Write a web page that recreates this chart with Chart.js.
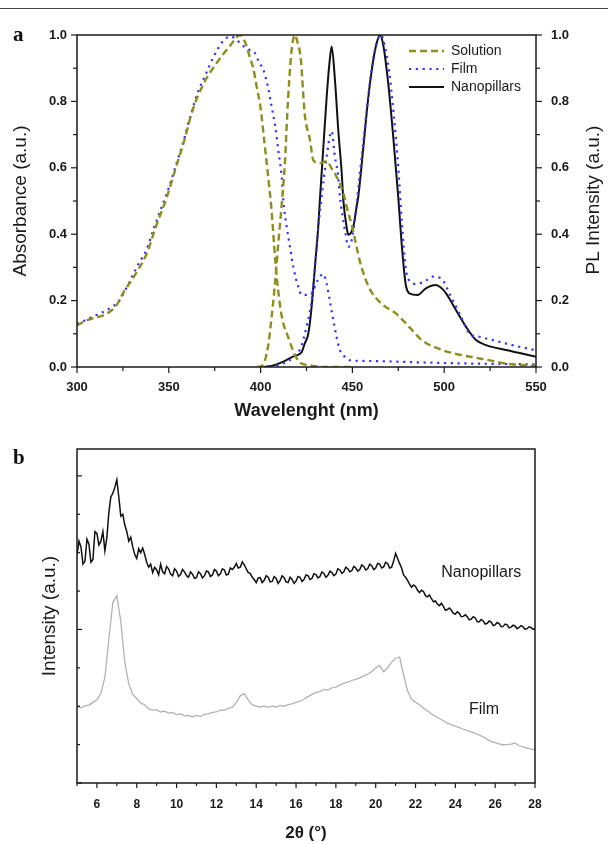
<!DOCTYPE html>
<html>
<head>
<meta charset="utf-8">
<script src="https://cdn.jsdelivr.net/npm/chart.js@4.4.0/dist/chart.umd.min.js"></script>
<style>
body { margin: 0; background: #fff; }
#page { position: relative; width: 612px; height: 844px; overflow: hidden; }
#rule { position: absolute; left: 0; top: 8px; width: 608px; height: 1px; background: #444; }
.panel { position: absolute; left: 13px; font: bold 21px "Liberation Serif", serif; line-height: 21px; color: #111; }
canvas { position: absolute; left: 0; }
</style>
</head>
<body>
<div id="page">
  <div id="rule"></div>
  <canvas id="spectra" width="612" height="430" style="top:0"></canvas>
  <canvas id="xrd" width="612" height="414" style="top:430px"></canvas>
  <div class="panel" style="top:24px">a</div>
  <div class="panel" style="top:447px">b</div>
</div>
<script>
// ---- panel a : absorbance (left axis) and PL (right axis)
const solAbsWl = [300, 305, 309, 314, 318, 322, 325, 331, 338, 343, 349, 354, 358, 363, 369, 376, 383, 389, 390.5, 392.5, 394, 396, 398, 400, 402, 404, 406, 408, 410, 412, 415, 418, 421, 427, 435, 450];
const solAbs = [0.125, 0.14, 0.147, 0.155, 0.167, 0.19, 0.222, 0.272, 0.342, 0.423, 0.513, 0.603, 0.674, 0.774, 0.854, 0.915, 0.965, 1.0, 0.99, 0.965, 0.935, 0.9, 0.84, 0.78, 0.68, 0.58, 0.47, 0.32, 0.21, 0.14, 0.09, 0.045, 0.016, 0.005, 0, 0];

const filmAbsWl = [300, 303, 308, 312, 318, 323, 328, 333, 338, 342, 346, 350, 354, 358, 362, 366, 370, 374, 378, 381, 384, 387, 391, 394, 397, 399, 401.5, 404, 406, 408, 409.6, 411.5, 412.4, 414.2, 416, 417.8, 420.5, 422.4, 427, 431, 434, 436, 438, 440, 441.4, 443.2, 446, 449, 460, 480, 500, 520, 550];
const filmAbs = [0.13, 0.137, 0.15, 0.16, 0.177, 0.2, 0.25, 0.305, 0.355, 0.42, 0.48, 0.54, 0.61, 0.68, 0.76, 0.83, 0.88, 0.93, 0.97, 0.99, 0.995, 0.985, 0.965, 0.955, 0.945, 0.92, 0.895, 0.844, 0.784, 0.724, 0.654, 0.573, 0.5, 0.423, 0.362, 0.302, 0.242, 0.217, 0.217, 0.26, 0.28, 0.25, 0.19, 0.13, 0.09, 0.051, 0.03, 0.02, 0.018, 0.015, 0.012, 0.01, 0.008];

const solPlWl = [398, 401, 404, 406, 407.8, 409.6, 411.5, 413.3, 414.5, 415.6, 416.9, 418.7, 420, 421.5, 422.4, 423.3, 424.2, 426.9, 428.7, 432.4, 436, 438.5, 441.4, 445.1, 447, 450, 454, 459, 466, 474, 481, 488, 497, 506, 515, 525, 534, 550];
const solPl = [0, 0.005, 0.06, 0.15, 0.25, 0.37, 0.49, 0.62, 0.76, 0.864, 0.955, 1.0, 0.98, 0.945, 0.895, 0.814, 0.754, 0.684, 0.623, 0.614, 0.62, 0.6, 0.573, 0.523, 0.48, 0.42, 0.32, 0.24, 0.19, 0.16, 0.12, 0.08, 0.055, 0.04, 0.03, 0.02, 0.01, 0.003];

const filmPlWl = [405, 412, 418, 422, 425, 427.8, 429.6, 431.4, 433, 434.5, 436, 437.5, 438.7, 440.5, 442.3, 443.2, 444.5, 446, 447.8, 449.6, 451, 452.5, 454, 456, 458.7, 461.4, 463.5, 465.5, 467.5, 470, 472.5, 475, 477, 479, 481, 485, 490, 493.7, 497, 499.2, 502.8, 506.4, 510, 513.7, 519, 526.4, 537, 550];
const filmPl = [0, 0.01, 0.03, 0.06, 0.12, 0.2, 0.3, 0.42, 0.5, 0.573, 0.633, 0.69, 0.71, 0.633, 0.573, 0.513, 0.46, 0.41, 0.362, 0.382, 0.43, 0.5, 0.58, 0.68, 0.82, 0.93, 0.98, 1.0, 0.97, 0.89, 0.76, 0.6, 0.43, 0.3, 0.26, 0.25, 0.26, 0.272, 0.27, 0.262, 0.222, 0.182, 0.141, 0.101, 0.091, 0.081, 0.066, 0.05];

const pillarPlWl = [402, 407, 412.4, 417, 420, 422.4, 424, 426, 427.8, 429.6, 431.4, 432.4, 434.2, 436, 437.5, 438.7, 440.5, 442.3, 444.2, 445.1, 446.9, 447.8, 450.5, 452.3, 453.2, 456, 458.7, 461.4, 463.2, 465, 466.8, 469.6, 472.3, 475, 477, 479, 481, 485.5, 490, 495.5, 498, 501, 506.4, 511.9, 517.3, 522.8, 533.7, 550];
const pillarPl = [0, 0.005, 0.016, 0.03, 0.036, 0.045, 0.07, 0.101, 0.182, 0.302, 0.423, 0.513, 0.664, 0.814, 0.915, 0.965, 0.864, 0.714, 0.583, 0.5, 0.42, 0.398, 0.423, 0.483, 0.513, 0.664, 0.814, 0.925, 0.975, 1.0, 0.97, 0.85, 0.69, 0.51, 0.36, 0.25, 0.222, 0.217, 0.237, 0.247, 0.24, 0.222, 0.172, 0.121, 0.081, 0.066, 0.051, 0.031];

const wlTicks = [300, 350, 400, 450, 500, 550];
const wlMinor = [325, 375, 425, 475, 525];
const intTicks = [0, 0.2, 0.4, 0.6, 0.8, 1.0];
const intMinor = [0.1, 0.3, 0.5, 0.7, 0.9];

// ---- panel b : XRD patterns (arbitrary offset intensity)
// nanopillar trace is noisy, so it is read at a finer step than the film
const thetaFine = [
    5.0, 5.1, 5.2, 5.3, 5.4, 5.5, 5.6, 5.7, 5.8, 5.9, 6.0, 6.1, 6.2, 6.3, 6.4, 6.5, 6.6, 6.7, 6.8, 6.9,
    7.0, 7.1, 7.2, 7.3, 7.4, 7.5, 7.6, 7.7, 7.8, 7.9, 8.0, 8.1, 8.2, 8.3, 8.4, 8.5, 8.6, 8.7, 8.8, 8.9,
    9.0, 9.1, 9.2, 9.3, 9.4, 9.5, 9.6, 9.7, 9.8, 9.9, 10.0, 10.1, 10.2, 10.3, 10.4, 10.5, 10.6, 10.7, 10.8, 10.9,
    11.0, 11.1, 11.2, 11.3, 11.4, 11.5, 11.6, 11.7, 11.8, 11.9, 12.0, 12.1, 12.2, 12.3, 12.4, 12.5, 12.6, 12.7, 12.8, 12.9,
    13.0, 13.1, 13.2, 13.3, 13.4, 13.5, 13.6, 13.7, 13.8, 13.9, 14.0, 14.1, 14.2, 14.3, 14.4, 14.5, 14.6, 14.7, 14.8, 14.9,
    15.0, 15.1, 15.2, 15.3, 15.4, 15.5, 15.6, 15.7, 15.8, 15.9, 16.0, 16.1, 16.2, 16.3, 16.4, 16.5, 16.6, 16.7, 16.8, 16.9,
    17.0, 17.1, 17.2, 17.3, 17.4, 17.5, 17.6, 17.7, 17.8, 17.9, 18.0, 18.1, 18.2, 18.3, 18.4, 18.5, 18.6, 18.7, 18.8, 18.9,
    19.0, 19.1, 19.2, 19.3, 19.4, 19.5, 19.6, 19.7, 19.8, 19.9, 20.0, 20.1, 20.2, 20.3, 20.4, 20.5, 20.6, 20.7, 20.8, 20.9,
    21.0, 21.1, 21.2, 21.3, 21.4, 21.5, 21.6, 21.7, 21.8, 21.9, 22.0, 22.1, 22.2, 22.3, 22.4, 22.5, 22.6, 22.7, 22.8, 22.9,
    23.0, 23.1, 23.2, 23.3, 23.4, 23.5, 23.6, 23.7, 23.8, 23.9, 24.0, 24.1, 24.2, 24.3, 24.4, 24.5, 24.6, 24.7, 24.8, 24.9,
    25.0, 25.1, 25.2, 25.3, 25.4, 25.5, 25.6, 25.7, 25.8, 25.9, 26.0, 26.1, 26.2, 26.3, 26.4, 26.5, 26.6, 26.7, 26.8, 26.9,
    27.0, 27.1, 27.2, 27.3, 27.4, 27.5, 27.6, 27.7, 27.8, 27.9, 28.0];
const xrdPillars = [
    5.95, 6.3, 6.15, 5.7, 5.78, 6.35, 6.22, 5.75, 5.82, 6.55, 6.5, 6.2, 6.3, 6.55, 6.05, 6.4, 7.05, 7.45, 7.55, 7.7,
    7.9, 7.45, 6.95, 7.0, 6.72, 6.55, 6.3, 6.4, 6.15, 5.95, 5.85, 6.1, 6.0, 6.12, 5.95, 5.75, 5.62, 5.7, 5.48, 5.62,
    5.55, 5.42, 5.7, 5.5, 5.45, 5.64, 5.58, 5.44, 5.4, 5.58, 5.52, 5.38, 5.43, 5.56, 5.5, 5.4, 5.36, 5.5, 5.44, 5.33,
    5.35, 5.5, 5.45, 5.34, 5.4, 5.52, 5.5, 5.38, 5.42, 5.56, 5.52, 5.4, 5.45, 5.58, 5.55, 5.42, 5.44, 5.6, 5.56, 5.62,
    5.72, 5.6, 5.62, 5.76, 5.68, 5.58, 5.48, 5.46, 5.36, 5.3, 5.22, 5.34, 5.35, 5.22, 5.28, 5.4, 5.36, 5.24, 5.25, 5.38,
    5.33, 5.2, 5.27, 5.4, 5.35, 5.24, 5.22, 5.36, 5.3, 5.2, 5.26, 5.38, 5.36, 5.25, 5.3, 5.42, 5.4, 5.3, 5.33, 5.45,
    5.43, 5.34, 5.38, 5.5, 5.46, 5.36, 5.41, 5.52, 5.48, 5.4, 5.44, 5.58, 5.55, 5.46, 5.5, 5.62, 5.58, 5.5, 5.53, 5.64,
    5.6, 5.52, 5.56, 5.68, 5.64, 5.55, 5.58, 5.7, 5.66, 5.56, 5.6, 5.72, 5.7, 5.6, 5.63, 5.75, 5.72, 5.6, 5.62, 5.78,
    5.98, 5.85, 5.72, 5.6, 5.42, 5.36, 5.28, 5.18, 5.1, 5.16, 5.12, 5.02, 4.96, 5.02, 4.99, 4.88, 4.85, 4.9, 4.8, 4.72,
    4.74, 4.66, 4.62, 4.68, 4.6, 4.5, 4.52, 4.56, 4.5, 4.42, 4.4, 4.46, 4.42, 4.33, 4.34, 4.38, 4.33, 4.25, 4.27, 4.33,
    4.3, 4.2, 4.2, 4.26, 4.22, 4.14, 4.16, 4.22, 4.19, 4.1, 4.12, 4.18, 4.15, 4.07, 4.08, 4.14, 4.12, 4.04, 4.06, 4.11,
    4.09, 4.02, 4.05, 4.1, 4.07, 4.0, 4.02, 4.07, 4.05, 4.0, 4.03];

const twoTheta = [5.0, 5.2, 5.4, 5.6, 5.8, 6.0, 6.2, 6.4, 6.6, 6.8, 7.0, 7.2, 7.4, 7.6, 7.8, 8.0, 8.2, 8.4, 8.6, 8.8, 9.0, 9.2, 9.4, 9.6, 9.8, 10.0, 10.2, 10.4, 10.6, 10.8, 11.0, 11.2, 11.4, 11.6, 11.8, 12.0, 12.2, 12.4, 12.6, 12.8, 13.0, 13.2, 13.4, 13.6, 13.8, 14.0, 14.2, 14.4, 14.6, 14.8, 15.0, 15.2, 15.4, 15.6, 15.8, 16.0, 16.2, 16.4, 16.6, 16.8, 17.0, 17.2, 17.4, 17.6, 17.8, 18.0, 18.2, 18.4, 18.6, 18.8, 19.0, 19.2, 19.4, 19.6, 19.8, 20.0, 20.2, 20.4, 20.6, 20.8, 21.0, 21.2, 21.4, 21.6, 21.8, 22.0, 22.2, 22.4, 22.6, 22.8, 23.0, 23.2, 23.4, 23.6, 23.8, 24.0, 24.2, 24.4, 24.6, 24.8, 25.0, 25.2, 25.4, 25.6, 25.8, 26.0, 26.2, 26.4, 26.6, 26.8, 27.0, 27.2, 27.4, 27.6, 27.8, 28.0];
const xrdFilm = [2.0, 1.96, 2.01, 2.03, 2.1, 2.17, 2.33, 2.75, 3.75, 4.7, 4.88, 4.2, 3.15, 2.58, 2.3, 2.2, 2.08, 2.04, 1.93, 1.9, 1.91, 1.85, 1.87, 1.82, 1.84, 1.78, 1.8, 1.75, 1.76, 1.72, 1.76, 1.73, 1.79, 1.8, 1.84, 1.85, 1.9, 1.89, 1.95, 1.97, 2.1, 2.27, 2.33, 2.16, 2.04, 2.0, 1.98, 2.01, 1.97, 2.0, 1.98, 2.02, 2.0, 2.04, 2.06, 2.1, 2.13, 2.18, 2.25, 2.31, 2.36, 2.38, 2.44, 2.42, 2.48, 2.5, 2.55, 2.6, 2.63, 2.67, 2.7, 2.74, 2.79, 2.84, 2.9, 3.0, 3.06, 2.9, 3.0, 3.15, 3.25, 3.28, 2.82, 2.4, 2.18, 2.1, 2.04, 1.95, 1.88, 1.8, 1.74, 1.68, 1.62, 1.56, 1.52, 1.48, 1.44, 1.4, 1.37, 1.33, 1.29, 1.25, 1.2, 1.14, 1.08, 1.05, 1.02, 0.99, 1.0, 1.01, 1.04, 0.97, 0.94, 0.91, 0.88, 0.86];
const thetaMajor = [6, 8, 10, 12, 14, 16, 18, 20, 22, 24, 26, 28];
const thetaMinor = [5, 7, 9, 11, 13, 15, 17, 19, 21, 23, 25, 27];

const SANS = '"Liberation Sans", Arial, sans-serif';
const INK = '#1a1a1a';
const OLIVE = '#8e8e1c';
const BLUE = '#3535ff';

Chart.defaults.font.family = SANS;
Chart.defaults.color = INK;

function pts(xs, ys) {
    return xs.map((x, i) => ({ x: x, y: ys[i] }));
}

// box around the plot area plus hand placed tick marks (major / minor)
const frameTicks = {
    id: 'frameTicks',
    afterDraw(chart, args, opts) {
        const ctx = chart.ctx;
        const a = chart.chartArea;
        ctx.save();
        ctx.strokeStyle = INK;
        ctx.lineWidth = 1.5;
        ctx.strokeRect(a.left, a.top, a.right - a.left, a.bottom - a.top);
        ctx.lineWidth = 1.2;
        opts.marks.forEach(m => {
            const s = chart.scales[m.scale];
            m.values.forEach(v => {
                const p = s.getPixelForValue(v);
                ctx.beginPath();
                if (s.isHorizontal()) {
                    ctx.moveTo(p, a.bottom);
                    ctx.lineTo(p, a.bottom + m.dir * m.len);
                } else {
                    const x0 = m.side === 'right' ? a.right : a.left;
                    ctx.moveTo(x0, p);
                    ctx.lineTo(x0 + m.dir * m.len, p);
                }
                ctx.stroke();
            });
        });
        ctx.restore();
    }
};

// small legend box inside panel a, and the right axis title read bottom to top
const spectraKey = {
    id: 'spectraKey',
    afterDraw(chart, args, opts) {
        const ctx = chart.ctx;
        ctx.save();
        ctx.font = opts.font;
        ctx.textBaseline = 'middle';
        ctx.textAlign = 'left';
        opts.items.forEach((idx, i) => {
            const ds = chart.data.datasets[idx];
            const y = opts.y + i * opts.row;
            ctx.strokeStyle = ds.borderColor;
            ctx.lineWidth = ds.borderWidth;
            ctx.setLineDash(ds.borderDash || []);
            ctx.beginPath();
            ctx.moveTo(opts.x, y);
            ctx.lineTo(opts.x + opts.len, y);
            ctx.stroke();
            ctx.setLineDash([]);
            ctx.fillStyle = INK;
            ctx.fillText(ds.label, opts.x + opts.len + opts.gap, y);
        });
        const t = opts.sideTitle;
        ctx.translate(t.x, t.y);
        ctx.rotate(-Math.PI / 2);
        ctx.textAlign = 'center';
        ctx.font = t.font;
        ctx.fillText(t.text, 0, 0);
        ctx.restore();
    }
};

// curve names written next to the XRD traces
const curveNotes = {
    id: 'curveNotes',
    afterDatasetsDraw(chart, args, opts) {
        const ctx = chart.ctx;
        ctx.save();
        ctx.font = opts.font;
        ctx.fillStyle = INK;
        ctx.textAlign = 'center';
        ctx.textBaseline = 'middle';
        opts.notes.forEach(n => {
            ctx.fillText(n.text, chart.scales.x.getPixelForValue(n.x), chart.scales.y.getPixelForValue(n.y));
        });
        ctx.restore();
    }
};

const noGrid = { display: false, drawTicks: false };

new Chart(document.getElementById('spectra'), {
    type: 'line',
    data: {
        datasets: [
            { label: 'Solution', data: pts(solAbsWl, solAbs), yAxisID: 'y', borderColor: OLIVE, borderWidth: 2.4, borderDash: [7, 4] },
            { label: 'Solution PL', data: pts(solPlWl, solPl), yAxisID: 'y2', borderColor: OLIVE, borderWidth: 2.4, borderDash: [7, 4] },
            { label: 'Film', data: pts(filmAbsWl, filmAbs), yAxisID: 'y', borderColor: BLUE, borderWidth: 2.2, borderDash: [2.2, 4.6] },
            { label: 'Film PL', data: pts(filmPlWl, filmPl), yAxisID: 'y2', borderColor: BLUE, borderWidth: 2.2, borderDash: [2.2, 4.6] },
            { label: 'Nanopillars', data: pts(pillarPlWl, pillarPl), yAxisID: 'y2', borderColor: '#111', borderWidth: 2 }
        ]
    },
    options: {
        responsive: false,
        animation: false,
        layout: { padding: { top: 35, left: 0, right: 0, bottom: 0 } },
        elements: { point: { radius: 0 }, line: { cubicInterpolationMode: 'monotone', fill: false } },
        plugins: {
            legend: { display: false },
            tooltip: { enabled: false },
            frameTicks: {
                marks: [
                    { scale: 'x', values: wlTicks, dir: 1, len: 6 },
                    { scale: 'x', values: wlMinor, dir: 1, len: 4 },
                    { scale: 'y', values: intTicks, dir: -1, len: 6, side: 'left' },
                    { scale: 'y', values: intMinor, dir: -1, len: 4, side: 'left' },
                    { scale: 'y2', values: intTicks, dir: 1, len: 6, side: 'right' },
                    { scale: 'y2', values: intMinor, dir: 1, len: 4, side: 'right' }
                ]
            },
            spectraKey: {
                items: [0, 2, 4], x: 409, y: 51, row: 18, len: 35, gap: 7,
                font: '14px ' + SANS,
                sideTitle: { text: 'PL Intensity (a.u.)', x: 594, y: 200, font: '19px ' + SANS }
            }
        },
        scales: {
            x: {
                type: 'linear', min: 300, max: 550,
                afterFit: s => { s.height = 63; },
                grid: noGrid, border: { display: false },
                ticks: { stepSize: 50, padding: 13, font: { size: 13, weight: 'bold' } },
                title: { display: true, text: 'Wavelenght (nm)', font: { size: 18, weight: 'bold' }, padding: { top: 0, bottom: 8 } }
            },
            y: {
                position: 'left', min: 0, max: 1,
                afterFit: s => { s.width = 77; },
                grid: noGrid, border: { display: false },
                ticks: { stepSize: 0.2, padding: 10, font: { size: 13, weight: 'bold' }, callback: v => v.toFixed(1) },
                title: { display: true, text: 'Absorbance (a.u.)', font: { size: 19 }, padding: { top: 9.6, bottom: 0 } }
            },
            y2: {
                position: 'right', min: 0, max: 1,
                afterFit: s => { s.width = 76; },
                grid: noGrid, border: { display: false },
                ticks: { stepSize: 0.2, padding: 15, font: { size: 13, weight: 'bold' }, callback: v => v.toFixed(1) }
            }
        }
    },
    plugins: [frameTicks, spectraKey]
});

new Chart(document.getElementById('xrd'), {
    type: 'line',
    data: {
        datasets: [
            { label: 'Nanopillars', data: pts(thetaFine, xrdPillars), borderColor: '#111', borderWidth: 1.5 },
            { label: 'Film', data: pts(twoTheta, xrdFilm), borderColor: '#b2b2b2', borderWidth: 1.3 }
        ]
    },
    options: {
        responsive: false,
        animation: false,
        layout: { padding: { top: 19, left: 0, right: 77, bottom: 0 } },
        elements: { point: { radius: 0 }, line: { tension: 0, fill: false } },
        plugins: {
            legend: { display: false },
            tooltip: { enabled: false },
            frameTicks: {
                marks: [
                    { scale: 'x', values: thetaMajor, dir: 1, len: 5 },
                    { scale: 'x', values: thetaMinor, dir: 1, len: 3 },
                    { scale: 'y', values: [0, 4, 8], dir: 1, len: 5, side: 'left' },
                    { scale: 'y', values: [1, 2, 3, 5, 6, 7], dir: 1, len: 3, side: 'left' }
                ]
            },
            curveNotes: {
                font: '16px ' + SANS,
                notes: [
                    { text: 'Nanopillars', x: 25.3, y: 5.49 },
                    { text: 'Film', x: 25.44, y: 1.9 }
                ]
            }
        },
        scales: {
            x: {
                type: 'linear', min: 5, max: 28,
                afterFit: s => { s.height = 61; },
                grid: noGrid, border: { display: false },
                ticks: { stepSize: 2, padding: 14.8, font: { size: 12, weight: 'bold' }, callback: v => (v % 2 === 0 ? String(v) : '') },
                title: { display: true, text: '2θ (°)', font: { size: 17, weight: 'bold' }, padding: { top: 0, bottom: 0 } }
            },
            y: {
                min: 0, max: 8.7,
                afterFit: s => { s.width = 77; },
                grid: noGrid, border: { display: false },
                ticks: { display: false },
                title: { display: true, text: 'Intensity (a.u.)', font: { size: 19 }, padding: { top: 38.6, bottom: 0 } }
            }
        }
    },
    plugins: [frameTicks, curveNotes]
});
</script>
</body>
</html>
